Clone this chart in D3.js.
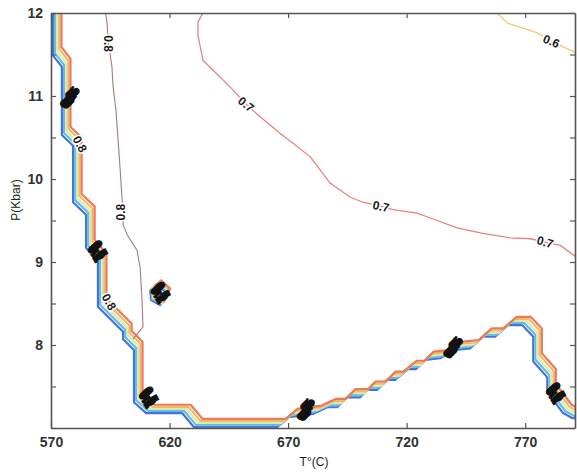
<!DOCTYPE html>
<html><head><meta charset="utf-8">
<script src="https://cdn.jsdelivr.net/npm/d3@7"></script>
<style>body{margin:0;background:#fff}</style>
</head><body><svg id="c" width="577" height="472"></svg>
<script>
// ---------- data ----------
const tempDomain = [570, 791];
const pressDomain = [7, 12];
const tempTicks = [570, 620, 670, 720, 770];
const pressTicks = [7, 7.5, 8, 8.5, 9, 9.5, 10, 10.5, 11, 11.5, 12];
const pressLabels = [8, 9, 10, 11, 12];

// lowest bundle contour (field boundary), T (°C) and P (kbar)
const boundaryT = [570.8,570.8,574.6,574.6,579.3,579.3,584.8,584.8,589.8,589.8,600.4,600.4,605.0,605.0,610.1,625.3,630.3,665.4,670.4,680.5,686.5,690.7,694.9,700.4,703.3,707.6,711.8,715.1,720.6,724.0,727.8,734.1,740.5,746.8,752.3,757.3,762.8,768.7,773.4,773.4,779.3,779.3,786.0,789.8,794.0];
const boundaryP = [12.05,11.49,11.35,10.53,10.40,9.72,9.57,9.17,9.00,8.46,8.16,8.07,7.94,7.31,7.18,7.18,7.01,7.01,7.13,7.17,7.25,7.25,7.37,7.37,7.46,7.46,7.58,7.58,7.71,7.71,7.82,7.84,7.94,7.96,8.10,8.10,8.24,8.24,8.10,7.80,7.61,7.43,7.18,7.12,7.12];
const bundleLevels = ["0.1", "0.2", "0.3", "0.4", "0.5"];
const bundleShiftT = [0, 0.9, 1.8, 2.7, 3.6];
const bundleShiftP = [0, 0.025, 0.05, 0.075, 0.1];
const bundleColors = ["#4474d6", "#62bcf0", "#dcecA4", "#f4b86c", "#ea7a56"];

// small closed contour
const islandT = [611.8, 614.7, 618.5, 616.0, 612.2, 611.8];
const islandP = [8.66, 8.73, 8.63, 8.48, 8.54, 8.66];

// isolated contours
const c08T = [592.8,593.6,594.1,595.7,596.2,597.4,598.3,599.1,600.0,600.4,602.1,606.3,607.6,608.4,608.8,604.6];
const c08P = [12.05,11.89,11.67,11.35,11.11,10.83,10.47,10.14,9.75,9.45,9.33,9.14,8.93,8.54,8.22,8.07];
const c07T = [635.0,632.0,632.0,634.1,638.4,645.5,652.3,658.2,666.6,679.3,687.7,696.2,701.6,709.2,714.3,724.4,729.9,741.3,751.0,763.7,772.1,778.4,784.8,792.0];
const c07P = [12.05,11.89,11.73,11.43,11.31,11.11,10.90,10.75,10.55,10.27,9.95,9.78,9.72,9.67,9.63,9.59,9.53,9.41,9.35,9.29,9.28,9.24,9.20,9.05];
const c06T = [756.5,762.4,770.0,775.1,781.0,786.9,793.0];
const c06P = [12.05,11.88,11.81,11.76,11.66,11.58,11.50];

// inline labels on isolated contours
const lineLabelText = ["0.8", "0.8", "0.7", "0.7", "0.7", "0.6"];
const lineLabelT = [594.3, 599.6, 652.3, 709.2, 778.4, 781.0];
const lineLabelP = [11.63, 9.6, 10.90, 9.67, 9.24, 11.66];
const lineLabelRot = [90, -90, 38, 12, 16, 22];

// labels on the bundle
const bundleLabelText = ["0.8", "0.8"];
const bundleLabelT = [582.2, 594.5];
const bundleLabelP = [10.42, 8.52];
const bundleLabelRot = [62, 60];

// clustered (overlapping) labels of the bundle levels
const blobT = [576.8, 588.6, 610.1, 676.3, 738.4, 781.8, 615.1];
const blobP = [10.95, 9.10, 7.34, 7.19, 7.94, 7.39, 8.60];
const blobRot = [-60, 60, 60, -70, -60, 60, 60];

// ---------- chart ----------
const svg = d3.select("#c");
const x = d3.scaleLinear().domain(tempDomain).range([51, 575]);
const y = d3.scaleLinear().domain(pressDomain).range([428, 13]);

svg.append("defs").append("clipPath").attr("id", "clip")
  .append("rect").attr("x", 51).attr("y", 13).attr("width", 524).attr("height", 415);

const plot = svg.append("g").attr("clip-path", "url(#clip)");
const line = d3.line().x(d => x(d[0])).y(d => y(d[1]));
const zip = (a, b) => a.map((v, i) => [v, b[i]]);

// bundle
bundleLevels.forEach((lv, i) => {
  const pts = boundaryT.map((t, k) => [t + bundleShiftT[i], boundaryP[k] + bundleShiftP[i]]);
  plot.append("path").attr("d", line(pts)).attr("fill", "none")
    .attr("stroke", bundleColors[i]).attr("stroke-width", 2.2).attr("stroke-linejoin", "round");
  const ipts = islandT.map((t, k) => [t + bundleShiftT[i] * 0.5, islandP[k] + bundleShiftP[i] * 0.5]);
  plot.append("path").attr("d", line(ipts)).attr("fill", "none")
    .attr("stroke", bundleColors[i]).attr("stroke-width", 2);
});

plot.append("path").attr("d", line(zip(c08T, c08P))).attr("fill", "none")
  .attr("stroke", "#a87a7a").attr("stroke-width", 1.1);
plot.append("path").attr("d", line(zip(c07T, c07P))).attr("fill", "none")
  .attr("stroke", "#e88282").attr("stroke-width", 1.3);
plot.append("path").attr("d", line(zip(c06T, c06P))).attr("fill", "none")
  .attr("stroke", "#f2c87c").attr("stroke-width", 1.3);

const labelFont = "Liberation Sans, Arial, sans-serif";
function addLabel(g, txt, t, p, rot, halo) {
  const el = g.append("text")
    .attr("transform", `translate(${x(t)},${y(p)}) rotate(${rot})`)
    .attr("text-anchor", "middle").attr("dy", "0.35em")
    .attr("font-family", labelFont).attr("font-size", 12).attr("font-weight", "bold")
    .attr("fill", "#1a1a1a").text(txt);
  if (halo) el.attr("stroke", "#fff").attr("stroke-width", 3).attr("paint-order", "stroke");
  return el;
}
lineLabelText.forEach((t, i) => addLabel(plot, t, lineLabelT[i], lineLabelP[i], lineLabelRot[i], true));
bundleLabelText.forEach((t, i) => addLabel(plot, t, bundleLabelT[i], bundleLabelP[i], bundleLabelRot[i], true));

blobT.forEach((bt, j) => {
  bundleLevels.forEach((lv, i) => {
    addLabel(plot, lv, bt + bundleShiftT[i] * 0.6, blobP[j] + bundleShiftP[i] * 0.6, blobRot[j], false)
      .attr("font-size", 12).attr("stroke", "#111").attr("stroke-width", 1.2);
  });
});

// axes
const axisColor = "#555";
const fmtP = d => pressLabels.includes(d) ? d : "";
const gB = svg.append("g").attr("transform", "translate(0,428)")
  .call(d3.axisBottom(x).tickValues(tempTicks).tickSizeInner(-5).tickSizeOuter(0).tickPadding(9));
const gT = svg.append("g").attr("transform", "translate(0,13)")
  .call(d3.axisTop(x).tickValues(tempTicks).tickSizeInner(-5).tickSizeOuter(0).tickFormat(""));
const gL = svg.append("g").attr("transform", "translate(51,0)")
  .call(d3.axisLeft(y).tickValues(pressTicks).tickSizeInner(-5).tickSizeOuter(0).tickPadding(8).tickFormat(fmtP));
const gR = svg.append("g").attr("transform", "translate(575,0)")
  .call(d3.axisRight(y).tickValues(pressTicks).tickSizeInner(-5).tickSizeOuter(0).tickFormat(""));
[gB, gT, gL, gR].forEach(g => {
  g.select(".domain").attr("stroke", axisColor).attr("stroke-width", 1.6);
  g.selectAll(".tick line").attr("stroke", axisColor).attr("stroke-width", 1.2);
  g.selectAll("text").attr("font-family", labelFont).attr("font-size", 14)
    .attr("font-weight", "bold").attr("fill", "#333");
});

svg.append("text").attr("x", 314).attr("y", 466).attr("text-anchor", "middle")
  .attr("font-family", labelFont).attr("font-size", 12).attr("fill", "#222").text("T°(C)");
svg.append("text").attr("transform", "translate(20,200) rotate(-90)").attr("text-anchor", "middle")
  .attr("font-family", labelFont).attr("font-size", 12).attr("fill", "#222").text("P(Kbar)");
</script>
</body></html>
